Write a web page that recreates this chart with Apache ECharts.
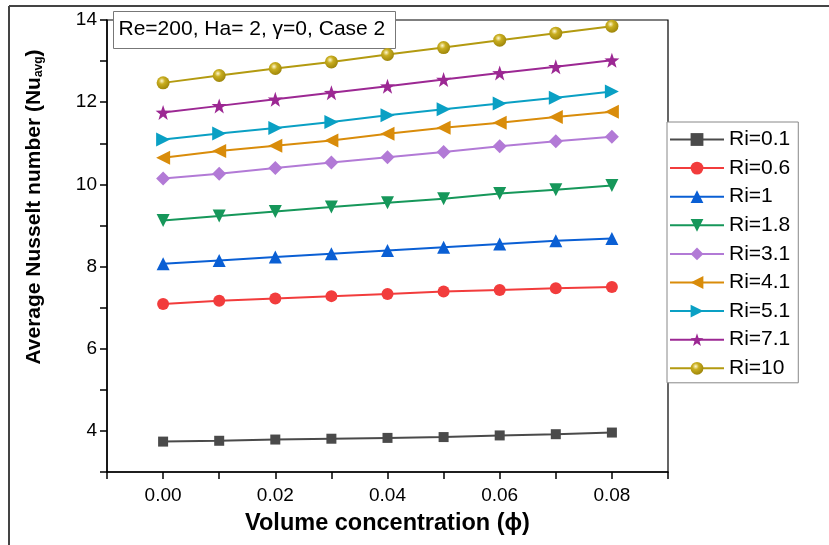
<!DOCTYPE html>
<html>
<head>
<meta charset="utf-8">
<script src="https://cdn.jsdelivr.net/npm/echarts@6/dist/echarts.min.js"></script>
<style>html,body{margin:0;padding:0;background:#fff;}#c{width:829px;height:545px;}</style>
</head>
<body>
<div id="c"></div>
<script>
const phi = [0.00, 0.01, 0.02, 0.03, 0.04, 0.05, 0.06, 0.07, 0.08];
const seriesNames = ['Ri=0.1','Ri=0.6','Ri=1','Ri=1.8','Ri=3.1','Ri=4.1','Ri=5.1','Ri=7.1','Ri=10'];
const ri01 = [3.74, 3.76, 3.79, 3.81, 3.83, 3.85, 3.89, 3.92, 3.96];
const ri06 = [7.09, 7.17, 7.22, 7.28, 7.33, 7.39, 7.43, 7.47, 7.50];
const ri1  = [8.07, 8.15, 8.23, 8.31, 8.39, 8.47, 8.55, 8.63, 8.68];
const ri18 = [9.12, 9.23, 9.34, 9.45, 9.55, 9.65, 9.78, 9.87, 9.97];
const ri31 = [10.14, 10.26, 10.40, 10.53, 10.66, 10.79, 10.93, 11.05, 11.16];
const ri41 = [10.65, 10.81, 10.94, 11.07, 11.23, 11.38, 11.50, 11.64, 11.77];
const ri51 = [11.09, 11.24, 11.37, 11.52, 11.68, 11.83, 11.97, 12.11, 12.26];
const ri71 = [11.75, 11.91, 12.07, 12.23, 12.39, 12.55, 12.71, 12.86, 13.02];
const ri10 = [12.47, 12.65, 12.82, 12.98, 13.16, 13.33, 13.51, 13.68, 13.85];
const allValues = [ri01, ri06, ri1, ri18, ri31, ri41, ri51, ri71, ri10];
const yTickLabels = [4, 6, 8, 10, 12, 14];
const xTickLabels = [0.00, 0.02, 0.04, 0.06, 0.08];

const colors = ['#4a4a4a','#f23c3c','#0a5fd4','#16975a','#b27ad6','#d98c0a','#0aa0c4','#9c2893','#b39a10'];
const star = 'path://M0,-10 L2.35,-3.24 L9.51,-3.09 L3.8,1.24 L5.88,8.09 L0,4 L-5.88,8.09 L-3.8,1.24 L-9.51,-3.09 L-2.35,-3.24 Z';
const symbols = ['rect','circle','triangle','triangle','diamond','triangle','triangle',star,'circle'];
const rotations = [0,0,0,180,0,90,-90,0,0];
const sizes = [10,12,13,13,14,14,14,15,13];

const chart = echarts.init(document.getElementById('c'), null, {renderer:'canvas'});
const series = seriesNames.map((n,i)=>({
  name:n, type:'line',
  data: phi.map((x,j)=>[x, allValues[i][j]]),
  symbol: symbols[i], symbolSize: sizes[i], symbolRotate: rotations[i],
  showAllSymbol:true,
  color: colors[i],
  lineStyle:{color:colors[i], width:2},
  itemStyle: i===8 ? {
    color: {type:'radial', x:0.4, y:0.35, r:0.7, colorStops:[{offset:0,color:'#fff8d0'},{offset:0.35,color:'#c9ae20'},{offset:1,color:'#9a8208'}]},
    borderWidth:0
  } : {color:colors[i], borderWidth:0},
  z: 2+i
}));

chart.setOption({
  animation:false,
  backgroundColor:'#fff',
  grid:{left:107, top:20, right:161, bottom:73, show:true, borderColor:'#000', borderWidth:1.2},
  xAxis:{
    type:'value', min:-0.01, max:0.09, interval:0.01,
    axisLine:{onZero:false, lineStyle:{color:'#000', width:1.5}},
    axisTick:{show:true, inside:false, length:7, lineStyle:{color:'#000', width:1.5}},
    splitLine:{show:false},
    axisLabel:{
      color:'#000', fontSize:19, fontFamily:'Liberation Sans, Arial', margin:14,
      formatter:function(v){
        const r = Math.round(v*100)/100;
        for (const t of xTickLabels) { if (Math.abs(t-r)<1e-6) return t.toFixed(2); }
        return '';
      }
    },
    name:'Volume concentration (\u03d5)', nameLocation:'middle', nameGap:40,
    nameTextStyle:{color:'#000', fontSize:23.5, fontWeight:'bold', fontFamily:'Liberation Sans, Arial'}
  },
  yAxis:{
    type:'value', min:3, max:14, interval:1,
    axisLine:{onZero:false, lineStyle:{color:'#000', width:1.5}},
    axisTick:{show:true, inside:false, length:7, lineStyle:{color:'#000', width:1.5}},
    splitLine:{show:false},
    axisLabel:{
      color:'#000', fontSize:19, fontFamily:'Liberation Sans, Arial', margin:10,
      formatter:function(v){
        const r = Math.round(v);
        return yTickLabels.indexOf(r)>=0 ? String(r) : '';
      }
    },
    name:'Average Nusselt number (Nu{s|avg})', nameLocation:'middle', nameGap:62, nameRotate:90,
    nameTextStyle:{color:'#000', fontSize:21, fontWeight:'bold', fontFamily:'Liberation Sans, Arial',
      padding:[0,0,0,78],
      rich:{s:{fontSize:12, fontWeight:'bold', fontFamily:'Liberation Sans, Arial', color:'#000', padding:[8,0,0,0]}}}
  },
  legend:{
    orient:'vertical', left:667, top:122,
    backgroundColor:'#fff', borderColor:'#888', borderWidth:1,
    padding:[7,8,4,2],
    itemWidth:54, itemHeight:16, itemGap:7.6,
    textStyle:{color:'#000', fontSize:21, fontFamily:'Liberation Sans, Arial'},
    data: seriesNames
  },
  graphic:[
    {type:'line', shape:{x1:9, y1:6, x2:829, y2:6}, style:{stroke:'#444', lineWidth:2}, z:100},
    {type:'line', shape:{x1:9, y1:6, x2:9, y2:545}, style:{stroke:'#444', lineWidth:2}, z:100},
    {type:'group', left:113, top:11, z:100, children:[
      {type:'rect', shape:{x:0, y:0, width:282, height:37}, style:{fill:'#fff', stroke:'#777', lineWidth:1}},
      {type:'text', left:5, top:7, style:{text:'Re=200, Ha= 2, \u03b3=0, Case 2', fill:'#000', font:'21px "Liberation Sans", Arial'}}
    ]}
  ],
  series: series
});
</script>
</body>
</html>
